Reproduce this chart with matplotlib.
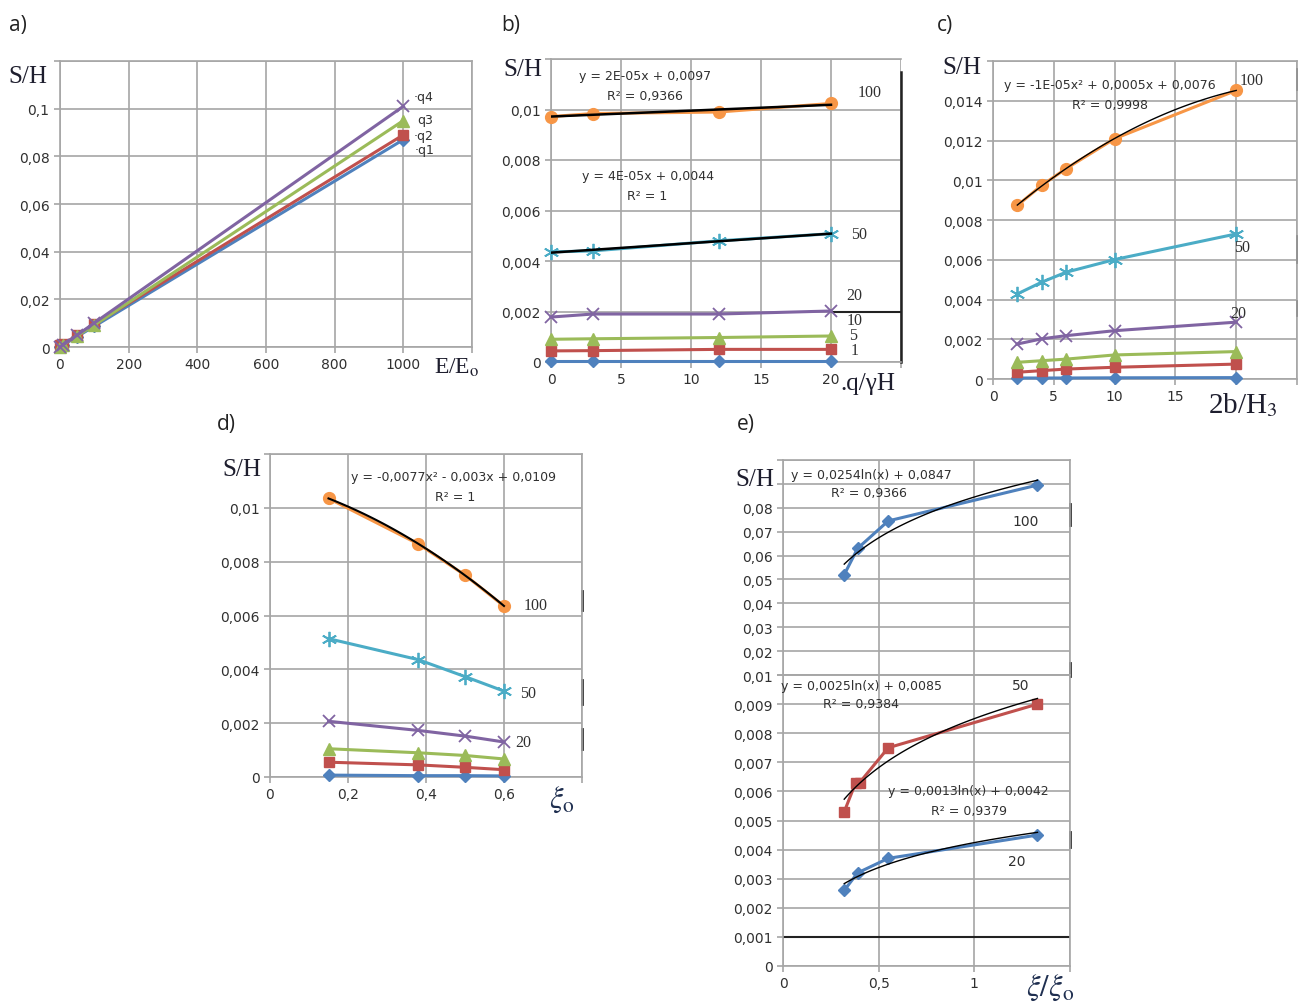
import numpy as np
import matplotlib.pyplot as plt

plt.rcParams['mathtext.fontset'] = 'stix'
plt.rcParams['font.family'] = ['DejaVu Sans']

W, H = 1298, 1003
GRID = '#A6A6A6'
TXT = '#303030'
SERIF = 'Liberation Serif'

BLUE = '#4F81BD'
RED = '#C0504D'
GREEN = '#9BBB59'
PURPLE = '#8064A2'
AQUA = '#4BACC6'
ORANGE = '#F79646'

# a) S/H against E/Eo
a_x = [0, 10, 50, 100, 1000]
a_q1 = [0, 0.0009, 0.0044, 0.0087, 0.087]
a_q2 = [0.001, 0.0012, 0.005, 0.0095, 0.089]
a_q3 = [0, 0.001, 0.0047, 0.0092, 0.095]
a_q4 = [0, 0.001, 0.005, 0.0101, 0.101]
a_names = ['q1', 'q2', 'q3', 'q4']

# b) S/H against q/gammaH
b_x = [0, 3, 12, 20]
b_1 = [0.00004, 0.00004, 0.00004, 0.00004]
b_5 = [0.00044, 0.00045, 0.0005, 0.0005]
b_10 = [0.0009, 0.00092, 0.00097, 0.00103]
b_20 = [0.00178, 0.0019, 0.0019, 0.00202]
b_50 = [0.00436, 0.0044, 0.0048, 0.00508]
b_100 = [0.00972, 0.00984, 0.0099, 0.01024]

# c) S/H against 2b/H3
c_x = [2, 4, 6, 10, 20]
c_1 = [0.00005, 0.00005, 0.00005, 0.00006, 0.00007]
c_5 = [0.00034, 0.00042, 0.0005, 0.00059, 0.00075]
c_10 = [0.00084, 0.00092, 0.001, 0.00121, 0.00138]
c_20 = [0.00176, 0.00202, 0.00218, 0.00243, 0.00286]
c_50 = [0.00428, 0.00487, 0.00537, 0.00601, 0.0073]
c_100 = [0.00873, 0.00974, 0.01058, 0.01209, 0.01452]

# d) S/H against xi_o
d_x = [0.15, 0.38, 0.5, 0.6]
d_1 = [0.00007, 0.00005, 0.00005, 0.00004]
d_5 = [0.00055, 0.00045, 0.00036, 0.00027]
d_10 = [0.00105, 0.0009, 0.0008, 0.00067]
d_20 = [0.00207, 0.00173, 0.00152, 0.0013]
d_50 = [0.00514, 0.00436, 0.00373, 0.00319]
d_100 = [0.01035, 0.00866, 0.0075, 0.00635]

# e) S/H against xi/xi_o
e_x = [0.32, 0.39, 0.55, 1.33]
e_100 = [0.052, 0.063, 0.0745, 0.0895]
e_x50 = [0.32, 0.38, 0.40, 0.55, 1.33]
e_50 = [0.0053, 0.0063, 0.0063, 0.0075, 0.009]
e_20 = [0.0026, 0.0032, 0.0037, 0.0045]

# marker / colour for each curve label
SERIES = {
    '1': dict(color=BLUE, marker='D', ms=6.5),
    '5': dict(color=RED, marker='s', ms=7.5),
    '10': dict(color=GREEN, marker='^', ms=8.5),
    '20': dict(color=PURPLE, marker='x', ms=9, mew=1.3),
    '50': dict(color=AQUA, marker=(6, 2, 0), ms=11, mew=1.3),
    '100': dict(color=ORANGE, marker='o', ms=8.5),
}

fig = plt.figure(figsize=(W / 100, H / 100), dpi=100)


def box(l, r, t, b):
    return [l / W, 1 - b / H, (r - l) / W, (b - t) / H]


def ftext(px, py, s, **kw):
    fig.text(px / W, 1 - py / H, s, ha='center', va='center', **kw)


def comma(v):
    return ('%g' % v).replace('.', ',')


def style(ax, xlim, ylim, xticks, yticks, nx_lab, ny_lab):
    ax.set_xlim(xlim)
    ax.set_ylim(ylim)
    ax.set_xticks(xticks)
    ax.set_yticks(yticks)
    ax.set_xticklabels([comma(v) if i < nx_lab else '' for i, v in enumerate(xticks)])
    ax.set_yticklabels([comma(v) if i < ny_lab else '' for i, v in enumerate(yticks)])
    ax.grid(True, color=GRID, lw=1.2)
    ax.set_axisbelow(True)
    for s in ax.spines.values():
        s.set_color(GRID)
        s.set_linewidth(1.2)
    ax.tick_params(colors=GRID, labelcolor=TXT, labelsize=10, length=4, width=1.2)


def trend(ax, x, y, deg=1, log=False, **kw):
    x = np.asarray(x, float)
    y = np.asarray(y, float)
    coef = np.polyfit(np.log(x) if log else x, y, deg)
    xs = np.linspace(x.min(), x.max(), 120)
    ax.plot(xs, np.polyval(coef, np.log(xs) if log else xs), color='k', zorder=4, **kw)


def edge_mark(ax, y0, y1):
    ax.plot([1, 1], [y0, y1], transform=ax.get_yaxis_transform(),
            color='#333333', lw=2, clip_on=False)


def draw_family(ax, x, curves):
    for name, y in curves:
        ax.plot(x, y, lw=2.2, clip_on=False, zorder=3, **SERIES[name])


EQ = dict(fontsize=9, color=TXT, ha='center', va='center')

# ---------- a)
ax = fig.add_axes(box(60, 472, 62, 348))
style(ax, (0, 1200), (0, 0.12), np.arange(0, 1201, 200), np.arange(0, 0.121, 0.02), 6, 6)
for y, st in zip([a_q1, a_q2, a_q3, a_q4], ['1', '5', '10', '20']):
    ax.plot(a_x, y, lw=2.2, clip_on=False, zorder=3, **SERIES[st])
for name, xt, yt in zip(a_names, [1032, 1029, 1041, 1029], [0.0828, 0.0887, 0.0954, 0.105]):
    ax.text(xt, yt, name if name == 'q3' else '\u00b7' + name, fontsize=9, color=TXT, va='center')

# ---------- b)
ax = fig.add_axes(box(551, 901, 60, 363))
style(ax, (0, 25), (0, 0.012), np.arange(0, 26, 5), np.arange(0, 0.0121, 0.002), 5, 6)
draw_family(ax, b_x, [('1', b_1), ('5', b_5), ('10', b_10), ('20', b_20), ('50', b_50), ('100', b_100)])
trend(ax, b_x, b_100, 1, lw=1.8)
trend(ax, b_x, b_50, 1, lw=1.8)
ax.spines['right'].set_color('#222222')
ax.spines['right'].set_linewidth(1.8)
ax.spines['right'].set_bounds(0, 0.0115)
ax.hlines(0.002, 20, 25, color='#222222', lw=1.5)
ax.text(6.7, 0.01135, 'y = 2E-05x + 0,0097', **EQ)
ax.text(6.7, 0.01056, 'R\u00b2 = 0,9366', **EQ)
ax.text(6.9, 0.00738, 'y = 4E-05x + 0,0044', **EQ)
ax.text(6.9, 0.00659, 'R\u00b2 = 1', **EQ)
for lab, xt, yt in [('100', 21.9, 0.01071), ('50', 21.4, 0.00508), ('20', 21.1, 0.00266),
                    ('10', 21.1, 0.00167), ('5', 21.3, 0.00107), ('1', 21.4, 0.00048)]:
    ax.text(xt, yt, lab, family=SERIF, fontsize=11.5, color=TXT, va='center')

# ---------- c)
ax = fig.add_axes(box(993, 1297, 62, 380))
style(ax, (0, 25), (0, 0.016), np.arange(0, 26, 5), np.arange(0, 0.0161, 0.002), 4, 8)
draw_family(ax, c_x, [('1', c_1), ('5', c_5), ('10', c_10), ('20', c_20), ('50', c_50), ('100', c_100)])
trend(ax, c_x, c_100, 2, lw=1.0)
ax.text(9.6, 0.01481, 'y = -1E-05x\u00b2 + 0,0005x + 0,0076', **EQ)
ax.text(9.6, 0.0138, 'R\u00b2 = 0,9998', **EQ)
for lab, xt, yt in [('100', 20.3, 0.01506), ('50', 19.8, 0.00665), ('20', 19.5, 0.00332)]:
    ax.text(xt, yt, lab, family=SERIF, fontsize=11.5, color=TXT, va='center')
edge_mark(ax, 0.0146, 0.0156)
edge_mark(ax, 0.0059, 0.0072)
edge_mark(ax, 0.0032, 0.0039)

# ---------- d)
ax = fig.add_axes(box(270, 582, 455, 778))
style(ax, (0, 0.8), (0, 0.012), np.arange(0, 0.81, 0.2), np.arange(0, 0.0121, 0.002), 4, 6)
draw_family(ax, d_x, [('1', d_1), ('5', d_5), ('10', d_10), ('20', d_20), ('50', d_50), ('100', d_100)])
trend(ax, d_x, d_100, 2, lw=1.5)
ax.text(0.47, 0.01116, 'y = -0,0077x\u00b2 - 0,003x + 0,0109', **EQ)
ax.text(0.475, 0.01041, 'R\u00b2 = 1', **EQ)
for lab, xt, yt in [('100', 0.65, 0.0064), ('50', 0.64, 0.00311), ('20', 0.63, 0.00131)]:
    ax.text(xt, yt, lab, family=SERIF, fontsize=11.5, color=TXT, va='center')
edge_mark(ax, 0.0062, 0.0069)
edge_mark(ax, 0.0027, 0.0036)
edge_mark(ax, 0.00105, 0.0018)

# ---------- e) upper part of the broken axis
axu = fig.add_axes(box(783, 1070, 461, 676))
style(axu, (0, 1.5), (0.01, 0.1), [0, 0.5, 1, 1.5], np.arange(0.01, 0.1001, 0.01), 0, 8)
axu.tick_params(axis='x', length=0)
axu.plot(e_x, e_100, lw=2.2, zorder=3, **SERIES['1'])
trend(axu, e_x, e_100, 1, log=True, lw=1.0)
axu.text(0.46, 0.094, 'y = 0,0254ln(x) + 0,0847', **EQ)
axu.text(0.45, 0.0865, 'R\u00b2 = 0,9366', **EQ)
axu.text(1.27, 0.0743, '100', fontsize=10, color=TXT, ha='center', va='center')
edge_mark(axu, 0.073, 0.0814)
edge_mark(axu, 0.0095, 0.015)

# ---------- e) lower part
axl = fig.add_axes(box(783, 1070, 676, 967))
style(axl, (0, 1.5), (0, 0.01), [0, 0.5, 1, 1.5], np.arange(0, 0.01001, 0.001), 3, 10)
axl.plot(e_x50, e_50, lw=2.2, zorder=3, **SERIES['5'])
axl.plot(e_x, e_20, lw=2.2, zorder=3, **SERIES['1'])
trend(axl, e_x50, e_50, 1, log=True, lw=1.0)
trend(axl, e_x, e_20, 1, log=True, lw=1.0)
axl.axhline(0.001, color='#222222', lw=1.5)
axl.text(0.41, 0.00965, 'y = 0,0025ln(x) + 0,0085', **EQ)
axl.text(0.41, 0.00903, 'R\u00b2 = 0,9384', **EQ)
axl.text(0.97, 0.00602, 'y = 0,0013ln(x) + 0,0042', **EQ)
axl.text(0.97, 0.00536, 'R\u00b2 = 0,9379', **EQ)
axl.text(1.24, 0.00965, '50', fontsize=10, color=TXT, ha='center', va='center')
axl.text(1.22, 0.0036, '20', fontsize=10, color=TXT, ha='center', va='center')
edge_mark(axl, 0.0041, 0.0046)

# ---------- panel letters and axis titles
for lab, px, py in [('a)', 18, 25), ('b)', 511, 25), ('c)', 945, 25), ('d)', 226, 425), ('e)', 746, 425)]:
    ftext(px, py, lab, family='Open Sans', fontsize=15, color='#222222')
for px, py in [(28, 77), (523, 70), (962, 68), (242, 470), (755, 480)]:
    ftext(px, py, 'S/H', family=SERIF, fontsize=18, color='#1E1E2E')
ftext(457, 368, r'E/E$_\mathrm{o}$', family=SERIF, fontsize=17, color='#1E1E2E')
ftext(868, 384, '.q/\u03b3H', family=SERIF, fontsize=18, color='#1E1E2E')
ftext(1243, 405, r'2b/H$_3$', family=SERIF, fontsize=21, color='#1E1E2E')
ftext(562, 800, r'$\xi_\mathrm{o}$', fontsize=22, color='#1F2F50')
ftext(1050, 988, r'$\xi/\xi_\mathrm{o}$', fontsize=22, color='#1F2F50')

fig.savefig('out.png', dpi=100)
